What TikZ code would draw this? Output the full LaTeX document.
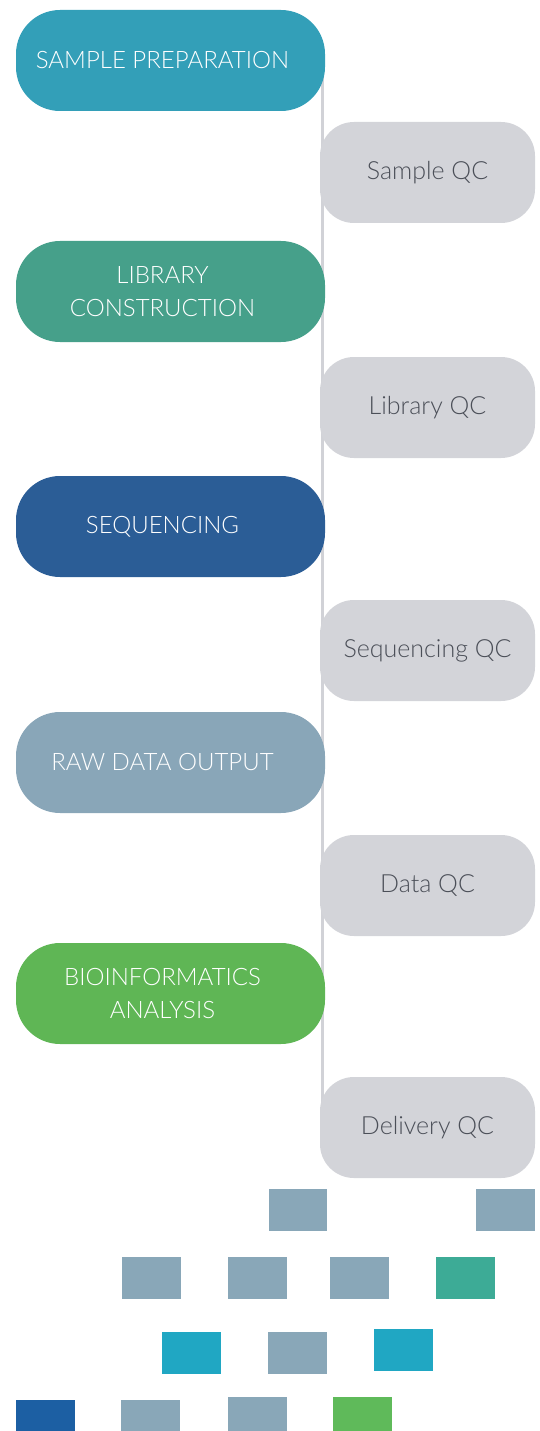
\documentclass[tikz,border=0pt]{standalone}
\usepackage{fontspec}
\setmainfont{Lato Light}
\usetikzlibrary{backgrounds}
\definecolor{cSP}{HTML}{339FB8}
\definecolor{cLC}{HTML}{46A08A}
\definecolor{cSQ}{HTML}{2B5D96}
\definecolor{cRD}{HTML}{89A6B8}
\definecolor{cBI}{HTML}{5FB655}
\definecolor{cQC}{HTML}{D3D4D9}
\definecolor{cQCt}{HTML}{4B4F58}
\definecolor{cLine}{HTML}{D1D2D7}
\definecolor{sqGray}{HTML}{89A7B8}
\definecolor{sqTeal}{HTML}{3DAB96}
\definecolor{sqCyan}{HTML}{20A7C3}
\definecolor{sqBlue}{HTML}{1C5FA3}
\definecolor{sqGreen}{HTML}{5FBA5A}
\tikzset{
  mainbox/.style={rectangle, rounded corners=44pt, minimum width=309pt, minimum height=101pt, inner sep=0pt},
  maintext/.style={text=white, font=\fontsize{24}{33}\selectfont, align=center, inner sep=0pt},
  qcbox/.style={rectangle, rounded corners=34pt, fill=cQC, minimum width=215pt, minimum height=101pt, inner sep=0pt, text=cQCt, font=\fontsize{25}{30}\selectfont},
  spine/.style={draw=cLine, line width=3pt}
}
\begin{document}
\begin{tikzpicture}[x=1pt,y=-1pt]
\useasboundingbox (0,0) rectangle (539,1431);
% main steps
\node[mainbox, fill=cSP] (sp) at (170.5,60.5) {};
\node[maintext] (spt) at ([xshift=-8pt]sp.center) {SAMPLE PREPARATION};
\node[mainbox, fill=cLC] (lc) at (170.5,291.5) {};
\node[maintext] (lct) at ([xshift=-8pt]lc.center) {LIBRARY\\CONSTRUCTION};
\node[mainbox, fill=cSQ] (sq) at (170.5,526.5) {};
\node[maintext] (sqt) at ([xshift=-8pt]sq.center) {SEQUENCING};
\node[mainbox, fill=cRD] (rd) at (170.5,762.5) {};
\node[maintext] (rdt) at ([xshift=-8pt]rd.center) {RAW DATA OUTPUT};
\node[mainbox, fill=cBI] (bi) at (170.5,993.5) {};
\node[maintext] (bit) at ([xshift=-8pt]bi.center) {BIOINFORMATICS\\ANALYSIS};
% QC steps
\node[qcbox] (sqc) at (427.5,172.5) {Sample QC};
\node[qcbox] (lqc) at (427.5,407.5) {Library QC};
\node[qcbox] (seqc) at (427.5,650.5) {Sequencing QC};
\node[qcbox] (dqc) at (427.5,885.5) {Data QC};
\node[qcbox] (delqc) at (427.5,1127.5) {Delivery QC};
% spine
\begin{scope}[on background layer]
\draw[spine] ([xshift=-3pt]sp.east) -- ([xshift=-3pt]sp.east |- delqc.center);
\end{scope}
% decorative squares
\fill[sqGray] (269,1189) rectangle (327,1231);
\fill[sqGray] (476,1189) rectangle (535,1231);
\fill[sqGray] (122,1257) rectangle (181,1299);
\fill[sqGray] (228,1257) rectangle (287,1299);
\fill[sqGray] (330,1257) rectangle (389,1299);
\fill[sqTeal] (436,1257) rectangle (495,1299);
\fill[sqCyan] (162,1332) rectangle (221,1374);
\fill[sqGray] (268,1332) rectangle (327,1374);
\fill[sqCyan] (374,1329) rectangle (433,1371);
\fill[sqBlue] (16,1400) rectangle (75,1442);
\fill[sqGray] (121,1400) rectangle (180,1442);
\fill[sqGray] (228,1397) rectangle (287,1439);
\fill[sqGreen] (333,1397) rectangle (392,1439);
\end{tikzpicture}
\end{document}
